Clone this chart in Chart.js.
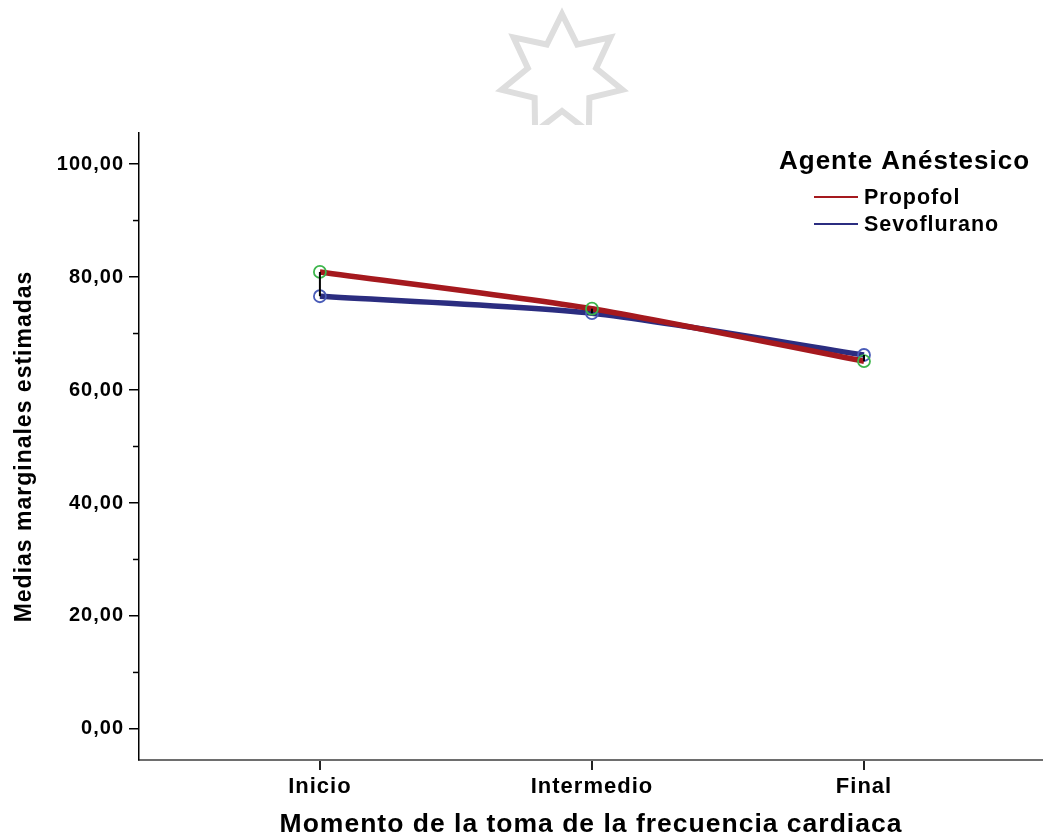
<!DOCTYPE html>
<html>
<head>
<meta charset="utf-8">
<script src="https://cdn.jsdelivr.net/npm/chart.js@4/dist/chart.umd.min.js"></script>
<style>
  html, body { margin: 0; padding: 0; background: #fff; overflow: hidden; }
</style>
</head>
<body>
<canvas id="fc" width="1043" height="838"></canvas>
<script>
const momentos = ['Inicio', 'Intermedio', 'Final'];
const propofol = [80.9, 74.4, 65.1];
const sevoflurano = [76.6, 73.6, 66.2];
const yTicks = [0, 20, 40, 60, 80, 100];
const yMinor = [10, 30, 50, 70, 90];

const FONT = "'Liberation Sans', Arial, sans-serif";

// canvas letter spacing, the original text is spaced out a bit
const spacing = {
    id: 'spacing',
    beforeLayout(chart) { chart.ctx.letterSpacing = '1px'; },
    beforeDraw(chart) { chart.ctx.letterSpacing = '1px'; }
};

// grey star watermark above the plot
const watermark = {
    id: 'watermark',
    beforeDraw(chart) {
        const ctx = chart.ctx;
        const cx = 562, cy = 76, R = 62, r = 35;
        ctx.save();
        ctx.beginPath();
        ctx.rect(0, 0, chart.width, chart.chartArea.top - 8);
        ctx.clip();
        ctx.beginPath();
        for (let k = 0; k < 14; k++) {
            const a = -Math.PI / 2 + k * Math.PI / 7;
            const rad = k % 2 === 0 ? R : r;
            const px = cx + rad * Math.cos(a), py = cy + rad * Math.sin(a);
            if (k === 0) ctx.moveTo(px, py); else ctx.lineTo(px, py);
        }
        ctx.closePath();
        ctx.strokeStyle = '#dedede';
        ctx.lineWidth = 6;
        ctx.stroke();
        ctx.restore();
    }
};

// black line between the two groups at each moment + minor y ticks
const extras = {
    id: 'extras',
    afterDatasetsDraw(chart) {
        const ctx = chart.ctx;
        const m0 = chart.getDatasetMeta(0), m1 = chart.getDatasetMeta(1);
        ctx.save();
        ctx.strokeStyle = '#000';
        ctx.lineWidth = 2;
        m0.data.forEach((p, i) => {
            const q = m1.data[i];
            ctx.beginPath();
            ctx.moveTo(p.x, p.y);
            ctx.lineTo(q.x, q.y);
            ctx.stroke();
        });
        ctx.restore();
    },
    afterDraw(chart) {
        const ctx = chart.ctx;
        const ys = chart.scales.y;
        ctx.save();
        ctx.strokeStyle = '#000';
        ctx.lineWidth = 1.5;
        yMinor.forEach(v => {
            const py = ys.getPixelForValue(v);
            ctx.beginPath();
            ctx.moveTo(ys.right - 6, py);
            ctx.lineTo(ys.right, py);
            ctx.stroke();
        });
        ctx.restore();
    }
};

// legend drawn in the upper right corner
const legendBox = {
    id: 'legendBox',
    afterDraw(chart) {
        const ctx = chart.ctx;
        ctx.save();
        ctx.letterSpacing = '1px';
        ctx.fillStyle = '#000';
        ctx.textBaseline = 'middle';
        ctx.textAlign = 'left';
        ctx.font = 'bold 26px ' + FONT;
        ctx.fillText('Agente Anéstesico', 779, 162);
        ctx.font = 'bold 21.5px ' + FONT;
        chart.data.datasets.forEach((ds, i) => {
            const y = 197 + i * 27;
            ctx.strokeStyle = ds.borderColor;
            ctx.lineWidth = 2;
            ctx.beginPath();
            ctx.moveTo(814, y);
            ctx.lineTo(858, y);
            ctx.stroke();
            ctx.fillText(ds.label, 864, y + 1);
        });
        ctx.restore();
    }
};

const data = {
    datasets: [
        {
            label: 'Propofol',
            data: propofol.map((v, i) => ({ x: i, y: v })),
            borderColor: '#a5191e',
            borderWidth: 5.5,
            tension: 0.25,
            pointRadius: 6,
            pointBorderWidth: 1.8,
            pointBorderColor: '#3cb54b',
            pointBackgroundColor: 'rgba(0,0,0,0)'
        },
        {
            label: 'Sevoflurano',
            data: sevoflurano.map((v, i) => ({ x: i, y: v })),
            borderColor: '#2b2d80',
            borderWidth: 5.5,
            tension: 0.25,
            pointRadius: 6,
            pointBorderWidth: 1.8,
            pointBorderColor: '#4a5cb8',
            pointBackgroundColor: 'rgba(0,0,0,0)'
        }
    ]
};

const config = {
    type: 'line',
    data: data,
    options: {
        responsive: false,
        animation: false,
        layout: { autoPadding: false, padding: { top: 133, left: 0, right: 0, bottom: 0 } },
        plugins: {
            legend: { display: false },
            tooltip: { enabled: false }
        },
        scales: {
            x: {
                type: 'linear',
                min: -0.665,
                max: 2.658,
                afterBuildTicks: scale => { scale.ticks = momentos.map((m, i) => ({ value: i })); },
                afterFit: scale => {
                    scale.height = 78;
                    scale.paddingLeft = 0;
                    scale.paddingRight = 0;
                },
                ticks: {
                    autoSkip: false,
                    maxRotation: 0,
                    padding: 4,
                    color: '#000',
                    font: { family: FONT, size: 22, weight: 'bold' },
                    callback: v => momentos[v]
                },
                grid: { drawOnChartArea: false, tickLength: 10, color: '#222', lineWidth: 2 },
                border: { color: '#6e6e6e', width: 2 },
                title: {
                    display: true,
                    text: 'Momento de la toma de la frecuencia cardiaca',
                    color: '#000',
                    font: { family: FONT, size: 26.5, weight: 'bold', lineHeight: 1 },
                    padding: { top: 0, bottom: 0 }
                }
            },
            y: {
                min: -5.5,
                max: 105.5,
                afterBuildTicks: scale => { scale.ticks = yTicks.map(v => ({ value: v })); },
                afterFit: scale => { scale.width = 139; },
                ticks: {
                    padding: 5,
                    color: '#000',
                    font: { family: FONT, size: 20, weight: 'bold' },
                    callback: v => v.toFixed(2).replace('.', ',')
                },
                grid: { drawOnChartArea: false, tickLength: 10, color: '#000', lineWidth: 1.5 },
                border: { color: '#000', width: 1.5 },
                title: {
                    display: true,
                    text: 'Medias marginales estimadas',
                    color: '#000',
                    font: { family: FONT, size: 23, weight: 'bold', lineHeight: 1.1 },
                    padding: { top: 12, bottom: 0 }
                }
            }
        }
    },
    plugins: [spacing, watermark, extras, legendBox]
};

const ctxFc = document.getElementById('fc').getContext('2d');
new Chart(ctxFc, config);
</script>
</body>
</html>
